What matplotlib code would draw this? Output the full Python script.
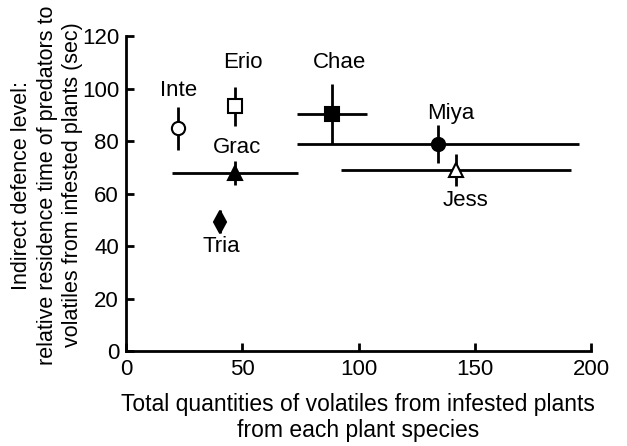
import matplotlib
matplotlib.use("Agg")
import matplotlib.pyplot as plt

plt.rcParams['font.family'] = ['Liberation Sans', 'DejaVu Sans']

species = ["Inte", "Erio", "Grac", "Tria", "Chae", "Miya", "Jess"]
x_vals = [22.5, 46.9, 46.9, 40.4, 88.7, 134.2, 141.9]
x_err = [0, 0, 27.2, 0, 15.0, 60.5, 49.4]
y_vals = [84.8, 93.3, 67.9, 49.3, 90.3, 78.9, 69.0]
y_err = [8.3, 7.4, 4.7, 4.3, 11.3, 7.1, 6.2]
markers = ["o", "s", "^", "d", "s", "o", "^"]
filled = [False, False, True, True, True, True, False]
label_x = [22.5, 50.3, 47.8, 40.9, 91.6, 139.8, 145.8]
label_y = [99.4, 110.0, 77.7, 40.0, 110.0, 90.7, 57.5]
x_ticks = [0, 50, 100, 150, 200]
y_ticks = [0, 20, 40, 60, 80, 100, 120]

fig = plt.figure(figsize=(6.27, 4.46), dpi=100)
ax = fig.add_axes([0.201, 0.213, 0.742, 0.706])

for i, sp in enumerate(species):
    ax.errorbar(x_vals[i], y_vals[i],
                xerr=x_err[i] if x_err[i] > 0 else None,
                yerr=y_err[i], fmt='none', ecolor='black', elinewidth=2,
                capsize=0, zorder=2)
    ms = 9.5 if markers[i] != "d" else 11
    ax.plot(x_vals[i], y_vals[i], marker=markers[i], markersize=ms,
            markerfacecolor='black' if filled[i] else 'white',
            markeredgecolor='black', markeredgewidth=1.5,
            linestyle='none', zorder=3)
    ax.text(label_x[i], label_y[i], sp, ha='center', va='center',
            fontsize=16, color='black')

ax.set_xlim(0, 200)
ax.set_ylim(0, 120)
ax.set_xticks(x_ticks)
ax.set_yticks(y_ticks)
ax.tick_params(direction='in', length=6, width=2, labelsize=16)
ax.tick_params(axis='x', pad=6)
ax.tick_params(axis='y', pad=5)
for s in ['top', 'right']:
    ax.spines[s].set_visible(False)
for s in ['left', 'bottom']:
    ax.spines[s].set_linewidth(2)

fig.text(0.571, 0.064,
         "Total quantities of volatiles from infested plants\nfrom each plant species",
         ha='center', va='center', fontsize=16.5, linespacing=1.15)
fig.text(0.075, 0.585,
         "Indirect defence level:\nrelative residence time of predators to\nvolatiles from infested plants (sec)",
         ha='center', va='center', rotation=90, fontsize=15.5, linespacing=1.3,
         multialignment='center')

fig.savefig("out.png", dpi=100)
